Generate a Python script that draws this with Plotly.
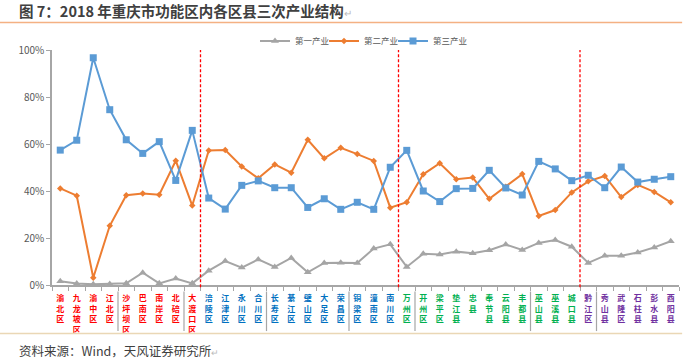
import plotly.graph_objects as go

categories = ["渝北区","九龙坡区","渝中区","江北区","沙坪坝区","巴南区","南岸区","北碚区","大渡口区",
              "涪陵区","江津区","永川区","合川区","长寿区","綦江区","璧山区","大足区","荣昌区","铜梁区","潼南区","南川区",
              "万州区","开州区","梁平区","垫江县","忠县","奉节县","云阳县","丰都县","巫山县","巫溪县","城口县",
              "黔江区","秀山县","武隆区","石柱县","彭水县","酉阳县"]
group_sizes = [9, 12, 11, 6]
group_colors = ["#FF0000", "#0070C0", "#00B050", "#7030A0"]

primary = [1.6,0.6,0.3,0.4,0.7,5.2,0.7,2.8,0.7,6.1,10.2,7.4,10.9,7.7,11.5,5.4,9.4,9.5,9.4,15.5,17.3,
           7.7,13.3,13.0,14.2,13.5,14.8,17.2,14.9,17.9,19.1,16.3,9.4,12.5,12.5,13.8,16.0,18.6]
secondary = [41.1,38.0,3.1,25.2,38.2,38.9,38.4,52.9,33.8,57.2,57.4,50.4,45.4,51.3,47.8,61.8,53.9,58.4,55.7,52.8,32.9,
             35.2,47.1,51.8,45.0,45.7,36.7,41.8,47.2,29.4,31.9,39.4,44.1,46.4,37.4,42.6,39.6,35.2]
tertiary = [57.4,61.6,96.7,74.6,61.8,56.0,61.0,44.5,65.8,37.0,32.3,42.4,44.3,41.4,41.4,33.0,36.7,32.2,35.2,32.2,50.1,
            57.3,40.0,35.5,41.0,41.1,48.8,41.3,38.3,52.6,49.4,44.4,46.7,41.4,50.2,43.8,45.0,46.1]
series_names = ["第一产业", "第二产业", "第三产业"]
y_ticks = [0, 20, 40, 60, 80, 100]
region_breaks = [9, 21, 32]          # red dashed separators (category boundary index)
label_dividers = [4, 8, 13, 18, 22, 29, 33]

FONT = "Noto Sans CJK SC, sans-serif"
PLOT_L, PLOT_W = 52, 627


def px_to_paper_x(px):
    return (px - PLOT_L) / PLOT_W


# colored vertical tick labels
ticktext = []
idx = 0
for g, n in enumerate(group_sizes):
    for _ in range(n):
        name = categories[idx]
        ticktext.append('<span style="color:%s"><b>%s</b></span>' % (group_colors[g], "<br>".join(list(name))))
        idx += 1

styles = [
    dict(line=dict(color="#A5A5A5", width=2), marker=dict(symbol="triangle-up", size=7, color="#A5A5A5")),
    dict(line=dict(color="#ED7D31", width=2), marker=dict(symbol="diamond", size=5, color="#ED7D31")),
    dict(line=dict(color="#5B9BD5", width=2), marker=dict(symbol="square", size=7, color="#5B9BD5")),
]
legend_ids = ["legend", "legend2", "legend3"]

fig = go.Figure()
for vals, name, st, lg in zip([primary, secondary, tertiary], series_names, styles, legend_ids):
    fig.add_trace(go.Scatter(x=categories, y=vals, name=name, mode="lines+markers", legend=lg, **st))

shapes = []
for k in region_breaks:
    shapes.append(dict(type="line", xref="x", yref="paper", x0=k - 0.5, x1=k - 0.5, y0=-0.01, y1=1.0,
                       line=dict(color="#FF0000", width=1.3, dash="3px,2px")))
for k in label_dividers:
    shapes.append(dict(type="line", xref="x", yref="paper", x0=k - 0.5, x1=k - 0.5, y0=-0.028, y1=-0.196,
                       line=dict(color="#A6A6A6", width=1.2)))
# title underline and footer line
shapes.append(dict(type="line", xref="paper", yref="paper", x0=-0.083, x1=1.005, y0=1.117, y1=1.117,
                   line=dict(color="#F4B183", width=1.5)))
shapes.append(dict(type="line", xref="paper", yref="paper", x0=-0.083, x1=1.005, y0=-0.206, y1=-0.206,
                   line=dict(color="#EAD7B5", width=1.5)))

annotations = [
    dict(xref="paper", yref="paper", x=-0.0558, y=1.170, xanchor="left", yanchor="middle", showarrow=False,
         text='<b>图 7：2018 年重庆市功能区内各区县三次产业结构</b><span style="color:#BBBBBB;font-size:10px">↵</span>',
         font=dict(family=FONT, size=14.5, color="#404040")),
    dict(xref="paper", yref="paper", x=-0.0558, y=-0.28, xanchor="left", yanchor="middle", showarrow=False,
         text='资料来源：Wind，天风证券研究所<span style="color:#BBBBBB;font-size:9px">↵</span>',
         font=dict(family=FONT, size=12.5, color="#404040")),
]

legend_common = dict(orientation="h", y=1.038, yanchor="middle", xanchor="left",
                     font=dict(family=FONT, size=8.5, color="#595959"), itemwidth=30,
                     bgcolor="rgba(0,0,0,0)", borderwidth=0)
legend_starts_px = [255, 324, 393]

fig.update_layout(
    width=700, height=359,
    margin=dict(l=52, r=21, t=50, b=74),
    paper_bgcolor="white", plot_bgcolor="white",
    font=dict(family=FONT, color="#595959"),
    showlegend=True,
    legend=dict(x=px_to_paper_x(legend_starts_px[0]), **legend_common),
    legend2=dict(x=px_to_paper_x(legend_starts_px[1]), **legend_common),
    legend3=dict(x=px_to_paper_x(legend_starts_px[2]), **legend_common),
    shapes=shapes,
    annotations=annotations,
)
fig.update_xaxes(type="category", tickmode="array", tickvals=categories, ticktext=ticktext,
                 tickson="boundaries", ticks="outside", ticklen=4, tickcolor="#A6A6A6",
                 showline=True, linecolor="#A6A6A6", linewidth=1.5, showgrid=False, zeroline=False,
                 tickangle=0, tickfont=dict(family=FONT, size=8), ticklabelstandoff=5,
                 range=[-0.5, 37.5])
fig.update_yaxes(range=[0, 100], tickmode="array", tickvals=y_ticks, ticktext=[f"{v}%" for v in y_ticks],
                 ticks="outside", ticklen=4, tickcolor="#A6A6A6",
                 showline=True, linecolor="#A6A6A6", linewidth=1.5, showgrid=False, zeroline=False,
                 tickfont=dict(family=FONT, size=10, color="#595959"))

fig.write_html("out.html", config={"displayModeBar": False},
               post_script="document.body.style.margin='0px';")
